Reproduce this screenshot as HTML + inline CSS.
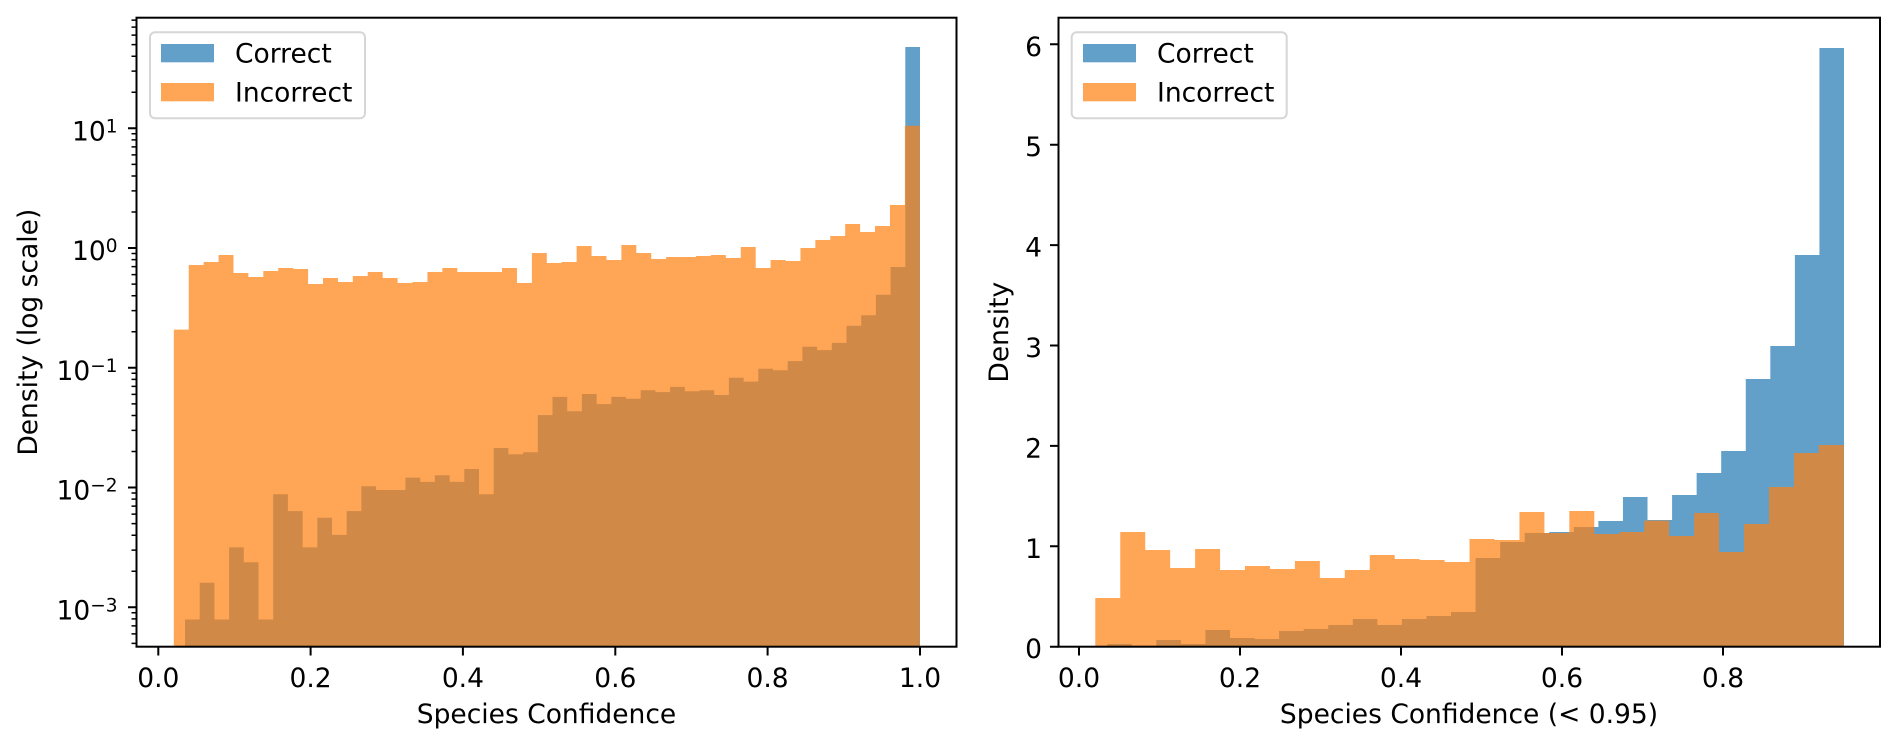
<!DOCTYPE html>
<html>
<head>
<meta charset="utf-8">
<style>
html,body{margin:0;padding:0;background:#ffffff;}
svg{display:block;}
text{font-family:"DejaVu Sans","Liberation Sans",sans-serif;fill:#000;font-size:26.5px;}
</style>
</head>
<body>
<svg width="1898" height="748" viewBox="0 0 1898 748" xmlns="http://www.w3.org/2000/svg">
<rect x="0" y="0" width="1898" height="748" fill="#ffffff"/>
<defs>
<clipPath id="cl"><rect x="136.5" y="17.7" width="820" height="629"/></clipPath>
<clipPath id="cr"><rect x="1058.5" y="17.7" width="821.5" height="629"/></clipPath>
</defs>

<!-- LEFT AXES: histogram bars -->
<g clip-path="url(#cl)">
<path fill="#1f77b4" fill-opacity="0.7" d="M185 646.7V619.5H199.7V582.7H214.4V619.5H229.1V547.4H243.8V562.2H258.5V619.5H273.2V494.3H287.9V511.1H302.6V547.4H317.3V517.7H332V534.9H346.7V511.1H361.4V486.2H376.1V490H390.8V490H405.5V477.6H420.2V481.9H434.9V475.2H449.6V481.9H464.3V469H479V494.3H493.7V448H508.4V454.2H523.1V452.3H537.8V415.1H552.5V396.9H567.2V411.2H581.9V394H596.6V404.1H611.3V396.9H626V398.8H640.7V390.2H655.4V392.1H670.1V386.9H684.8V391.2H699.5V390.2H714.2V395H728.9V377.8H743.6V381.6H758.3V368.7H773V370.2H787.7V361.1H802.4V346.8H817.1V350.1H831.8V342.9H846.5V325.8H861.2V315.2H875.9V294.7H890.6V267H905.3V47H920V646.7Z"/>
<path fill="#ff7f0e" fill-opacity="0.7" d="M173.8 646.7V329.6H188.72V265H203.64V262H218.56V255H233.48V273H248.4V277H263.32V271H278.24V268H293.16V269H308.08V284H323V278H337.92V282H352.84V276H367.76V272H382.68V278H397.6V283H412.52V282H427.44V272H442.36V268H457.28V272H472.2V272H487.12V272H502.04V268H516.96V283H531.88V253H546.8V263H561.72V262H576.64V246H591.56V256H606.48V260H621.4V245H636.32V253H651.24V259H666.16V257H681.08V257H696V256H710.92V255H725.84V258H740.76V247H755.68V268H770.6V260H785.52V261H800.44V248H815.36V240H830.28V236H845.2V224H860.12V232H875.04V226H889.96V205H904.88V125.7H919.8V646.7Z"/>
</g>

<!-- left major ticks -->
<path stroke="#000" stroke-width="2" fill="none" d="M158.3 646.7V655.5M310.6 646.7V655.5M462.9 646.7V655.5M615.3 646.7V655.5M767.6 646.7V655.5M920 646.7V655.5M128 607.3H136.5M128 487.55H136.5M128 367.8H136.5M128 248.05H136.5M128 128.3H136.5"/>
<!-- left minor ticks (log) -->
<path stroke="#000" stroke-width="1.5" fill="none" d="M131.5 643.35H136.5M131.5 633.87H136.5M131.5 625.85H136.5M131.5 618.9H136.5M131.5 612.78H136.5M131.5 571.25H136.5M131.5 550.16H136.5M131.5 535.2H136.5M131.5 523.6H136.5M131.5 514.12H136.5M131.5 506.1H136.5M131.5 499.15H136.5M131.5 493.03H136.5M131.5 451.5H136.5M131.5 430.41H136.5M131.5 415.45H136.5M131.5 403.85H136.5M131.5 394.37H136.5M131.5 386.35H136.5M131.5 379.4H136.5M131.5 373.28H136.5M131.5 331.75H136.5M131.5 310.66H136.5M131.5 295.7H136.5M131.5 284.1H136.5M131.5 274.62H136.5M131.5 266.6H136.5M131.5 259.65H136.5M131.5 253.53H136.5M131.5 212H136.5M131.5 190.91H136.5M131.5 175.95H136.5M131.5 164.35H136.5M131.5 154.87H136.5M131.5 146.85H136.5M131.5 139.9H136.5M131.5 133.78H136.5M131.5 92.25H136.5M131.5 71.16H136.5M131.5 56.2H136.5M131.5 44.6H136.5M131.5 35.12H136.5M131.5 27.1H136.5M131.5 20.15H136.5"/>

<rect x="136.5" y="17.7" width="820" height="629" fill="none" stroke="#000" stroke-width="2"/>

<g text-anchor="middle">
<text x="158.3" y="687">0.0</text>
<text x="310.6" y="687">0.2</text>
<text x="462.9" y="687">0.4</text>
<text x="615.3" y="687">0.6</text>
<text x="767.6" y="687">0.8</text>
<text x="920" y="687">1.0</text>
</g>
<g text-anchor="end">
<text x="117.5" y="619.3">10<tspan dy="-8" font-size="18.5">−3</tspan></text>
<text x="117.5" y="499.5">10<tspan dy="-8" font-size="18.5">−2</tspan></text>
<text x="117.5" y="379.8">10<tspan dy="-8" font-size="18.5">−1</tspan></text>
<text x="117.5" y="260">10<tspan dy="-8" font-size="18.5">0</tspan></text>
<text x="117.5" y="140.3">10<tspan dy="-8" font-size="18.5">1</tspan></text>
</g>
<text x="546.5" y="723" text-anchor="middle">Species Confidence</text>
<text x="37" y="332.2" text-anchor="middle" transform="rotate(-90 37 332.2)">Density (log scale)</text>

<!-- left legend -->
<rect x="150" y="32.3" width="215" height="86" rx="5" ry="5" fill="#ffffff" fill-opacity="0.8" stroke="#d6d6d6" stroke-width="2"/>
<rect x="161" y="44" width="53" height="18.3" fill="#1f77b4" fill-opacity="0.7"/>
<rect x="161" y="83" width="53" height="18.3" fill="#ff7f0e" fill-opacity="0.7"/>
<text x="235" y="62.7">Correct</text>
<text x="235" y="101.7">Incorrect</text>

<!-- RIGHT AXES: histogram bars -->
<g clip-path="url(#cr)">
<path fill="#1f77b4" fill-opacity="0.7" d="M1107.2 646.7V644H1131.76V645.7H1156.32V640H1180.88V644H1205.44V630H1230V638H1254.56V639H1279.12V631H1303.68V629H1328.24V625H1352.8V619H1377.36V625H1401.92V619H1426.48V616H1451.04V612H1475.6V558H1500.16V542H1524.72V533H1549.28V532H1573.84V527H1598.4V521H1622.96V497H1647.52V520H1672.08V495H1696.64V473H1721.2V451H1745.76V379H1770.32V346H1794.88V255H1819.44V48H1844V646.7Z"/>
<path fill="#ff7f0e" fill-opacity="0.7" d="M1095.3 646.7V598H1120.25V532H1145.2V550H1170.15V568H1195.1V549H1220.05V570H1245V566H1269.95V569H1294.9V561H1319.85V578H1344.8V570H1369.75V555H1394.7V559H1419.65V560H1444.6V562H1469.55V539H1494.5V540H1519.45V512H1544.4V533H1569.35V511H1594.3V534H1619.25V532H1644.2V520.6H1669.15V536H1694.1V513H1719.05V552H1744V524H1768.95V487H1793.9V453H1818.85V445H1843.8V646.7Z"/>
</g>

<path stroke="#000" stroke-width="2" fill="none" d="M1079 646.7V655.5M1240 646.7V655.5M1401 646.7V655.5M1562 646.7V655.5M1723 646.7V655.5M1050 646.7H1058.5M1050 546.3H1058.5M1050 445.9H1058.5M1050 345.5H1058.5M1050 245.1H1058.5M1050 144.7H1058.5M1050 44.3H1058.5"/>

<rect x="1058.5" y="17.7" width="821.5" height="629" fill="none" stroke="#000" stroke-width="2"/>

<g text-anchor="middle">
<text x="1079" y="687">0.0</text>
<text x="1240" y="687">0.2</text>
<text x="1401" y="687">0.4</text>
<text x="1562" y="687">0.6</text>
<text x="1723" y="687">0.8</text>
</g>
<g text-anchor="end">
<text x="1042" y="658.2">0</text>
<text x="1042" y="557.8">1</text>
<text x="1042" y="457.4">2</text>
<text x="1042" y="357">3</text>
<text x="1042" y="256.6">4</text>
<text x="1042" y="156.2">5</text>
<text x="1042" y="55.8">6</text>
</g>
<text x="1469" y="723" text-anchor="middle">Species Confidence (&lt; 0.95)</text>
<text x="1008" y="332.2" text-anchor="middle" transform="rotate(-90 1008 332.2)">Density</text>

<!-- right legend -->
<rect x="1071.7" y="32.3" width="215" height="86" rx="5" ry="5" fill="#ffffff" fill-opacity="0.8" stroke="#d6d6d6" stroke-width="2"/>
<rect x="1083" y="44" width="53" height="18.3" fill="#1f77b4" fill-opacity="0.7"/>
<rect x="1083" y="83" width="53" height="18.3" fill="#ff7f0e" fill-opacity="0.7"/>
<text x="1157" y="62.7">Correct</text>
<text x="1157" y="101.7">Incorrect</text>
</svg>
</body>
</html>
